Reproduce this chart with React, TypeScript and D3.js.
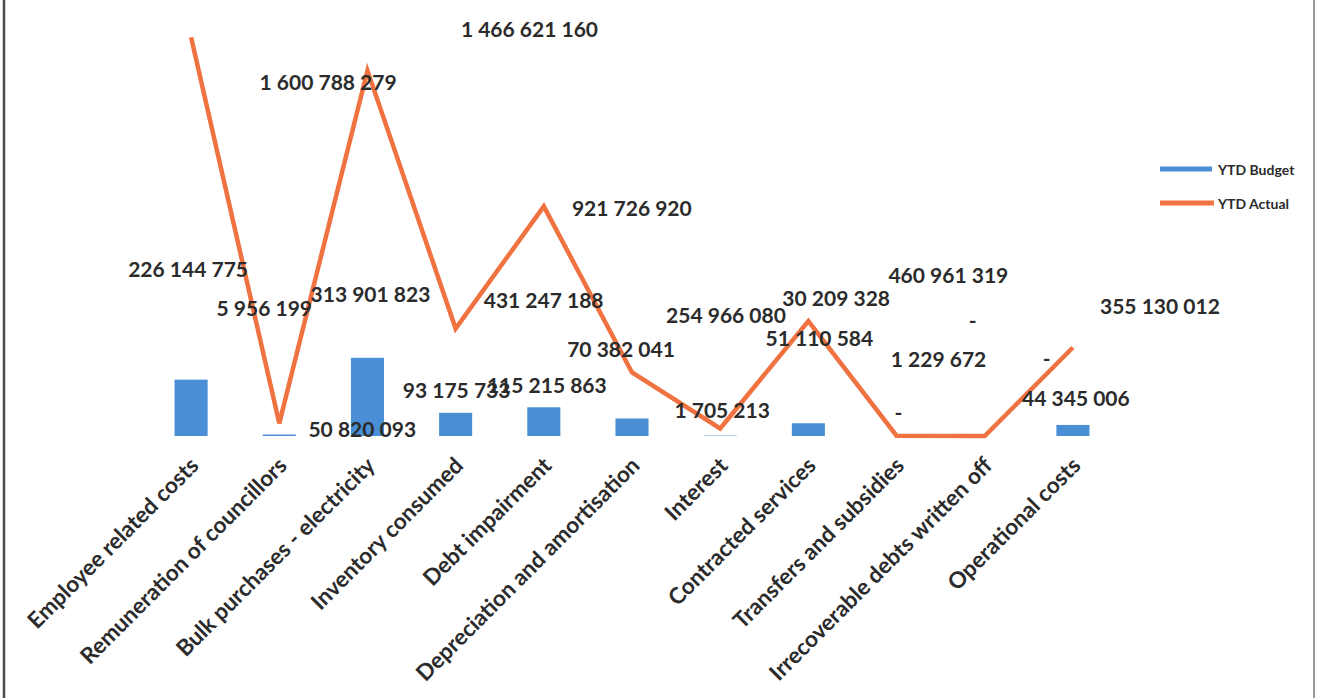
import React from "react";
import * as d3 from "d3";

const categories = [
  "Employee related costs",
  "Remuneration of councillors",
  "Bulk purchases - electricity",
  "Inventory consumed",
  "Debt impairment",
  "Depreciation and amortisation",
  "Interest",
  "Contracted services",
  "Transfers and subsidies",
  "Irrecoverable debts written off",
  "Operational costs",
];

const ytdBudget = [226144775, 5956199, 313901823, 93175733, 115215863, 70382041, 1705213, 51110584, 0, 0, 44345006];
const ytdActual = [1600788279, 50820093, 1466621160, 431247188, 921726920, 254966080, 30209328, 460961319, 1229672, 0, 355130012];

// label offsets (px) from each mark's anchor, as placed in the original chart
const budgetLabelOffsets: [number, number][] = [
  [-3, -111], [-15, -127], [3, -64], [1, -23], [3, -23], [-11, -70], [2, -26], [11, -86], [2, -25], [-12, -117], [3, -27],
];
const actualLabelOffsets: [number, number][] = [
  [137, 44], [83, 5], [162, -42], [88, -29], [88, 1], [94, -58], [116, -131], [140, -47], [42, -77], [62, -79], [87, -42],
];

const legendItems = ["YTD Budget", "YTD Actual"];

const W = 1320;
const H = 698;
const BAR = "#4A8FD5";
const LINE = "#EF7240";
const TEXT = "#2b2b2b";
const FONT = "Lato, 'Open Sans', sans-serif";

const fmt = (v: number) => (v === 0 ? "-" : d3.format(",")(v).replace(/,/g, " "));

export default function App() {
  const x = d3.scaleBand<string>().domain(categories).range([147, 1117]).paddingInner(0.625).paddingOuter(0.3125);
  const y = d3.scaleLinear().domain([0, 1.75e9]).range([436, 0]);
  const cx = (i: number) => (x(categories[i]) as number) + x.bandwidth() / 2;
  const line = d3
    .line<number>()
    .x((_, i) => cx(i))
    .y((d) => y(d));

  return (
    <svg width={W} height={H} style={{ position: "absolute", left: 0, top: 0, background: "#fff" }}>
      <rect x={0} y={0} width={W} height={H} fill="#fff" />
      <line x1={4} x2={4} y1={0} y2={H} stroke="#4a4a4a" strokeWidth={2.5} />
      <line x1={1314} x2={1314} y1={0} y2={H} stroke="#9a9a9a" strokeWidth={2} />

      {ytdBudget.map((v, i) => (
        <rect
          key={"b" + i}
          x={x(categories[i])}
          y={y(v)}
          width={x.bandwidth()}
          height={y(0) - y(v)}
          fill={BAR}
        />
      ))}

      <path d={line(ytdActual) || ""} fill="none" stroke={LINE} strokeWidth={4.5} strokeLinejoin="miter" />

      <g fontFamily={FONT} fontWeight={700} fontSize={21} fill={TEXT} textAnchor="middle" dominantBaseline="central">
        {ytdBudget.map((v, i) => (
          <text key={"bl" + i} x={cx(i) + budgetLabelOffsets[i][0]} y={y(v) + budgetLabelOffsets[i][1]}>
            {fmt(v)}
          </text>
        ))}
        {ytdActual.map((v, i) => (
          <text key={"al" + i} x={cx(i) + actualLabelOffsets[i][0]} y={y(v) + actualLabelOffsets[i][1]}>
            {fmt(v)}
          </text>
        ))}
      </g>

      <g fontFamily={FONT} fontWeight={700} fontSize={22.5} fill={TEXT}>
        {categories.map((c, i) => (
          <text key={"c" + i} textAnchor="end" transform={`translate(${cx(i) + 9},${467}) rotate(-45)`}>
            {c}
          </text>
        ))}
      </g>

      <g fontFamily={FONT} fontWeight={700} fontSize={14} fill={TEXT}>
        {legendItems.map((l, i) => (
          <g key={l} transform={`translate(1160,${169 + i * 34})`}>
            <line x1={0} x2={i === 0 ? 52 : 54} y1={0} y2={0} stroke={i === 0 ? BAR : LINE} strokeWidth={5} />
            <text x={58} y={0} dominantBaseline="central">
              {l}
            </text>
          </g>
        ))}
      </g>
    </svg>
  );
}
